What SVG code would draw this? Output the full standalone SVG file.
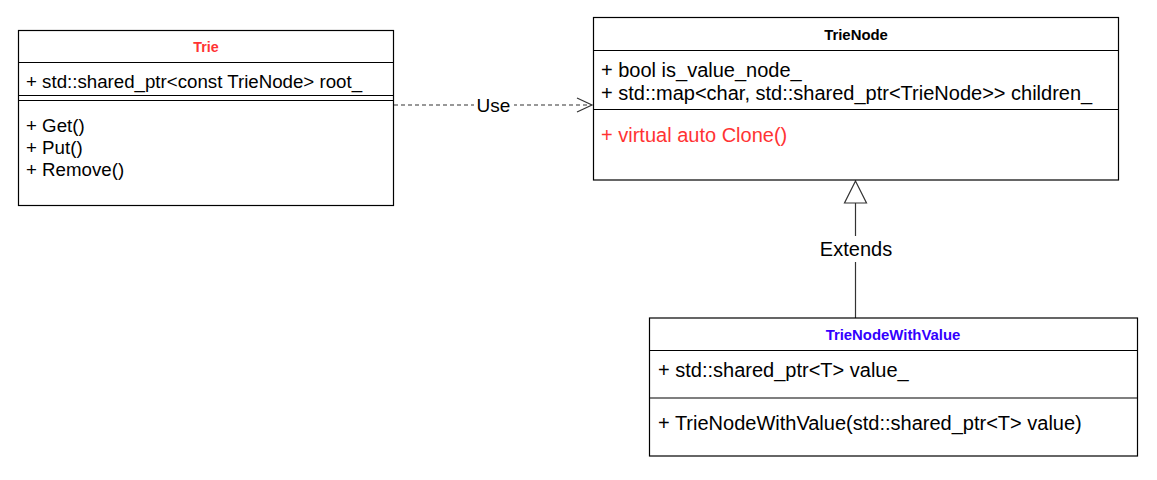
<svg xmlns="http://www.w3.org/2000/svg" width="1157" height="480" viewBox="0 0 1157 480">
<style>
.box{fill:#fff;stroke:#000;stroke-width:1.2}
.ln{stroke:#000;stroke-width:1.2;fill:none}
.t{font-family:"Liberation Sans",Arial,sans-serif;font-size:18.7px;fill:#000}
.t2{font-family:"Liberation Sans",Arial,sans-serif;font-size:20px;fill:#000}
.red{fill:#FF3333}
.h{font-family:"Liberation Sans",Arial,sans-serif;font-size:14.9px;font-weight:bold;text-anchor:middle}
.lbl{font-family:"Liberation Sans",Arial,sans-serif;font-size:20px;fill:#000;text-anchor:middle}
.conn{stroke:#333;stroke-width:1.2;fill:none}
</style>
<rect width="1157" height="480" fill="#fff"/>
<g id="connectors">
<line class="conn" x1="394" y1="105" x2="591" y2="105" stroke-dasharray="4,3"/>
<polyline class="conn" points="577,98 592,105 577,112"/>
<rect x="474" y="92" width="40" height="24" fill="#fff"/>
<text class="lbl" x="493.5" y="112" style="font-size:19px">Use</text>
<line class="conn" x1="855.5" y1="318" x2="855.5" y2="203"/>
<polygon points="855.5,181 844.5,203 866.5,203" fill="#fff" stroke="#333" stroke-width="1.2"/>
<rect x="816" y="236" width="80" height="26" fill="#fff"/>
<text class="lbl" x="856" y="256">Extends</text>
</g>
<g id="trie">
<rect class="box" x="18.5" y="30.5" width="375" height="175"/>
<line class="ln" x1="18.5" y1="62.5" x2="393.5" y2="62.5"/>
<line class="ln" x1="18.5" y1="95.5" x2="393.5" y2="95.5"/>
<line class="ln" x1="18.5" y1="100.5" x2="393.5" y2="100.5"/>
<text class="h red" x="206" y="52" style="font-size:14.3px">Trie</text>
<text class="t" x="26" y="88">+ std::shared_ptr&lt;const TrieNode&gt; root_</text>
<text class="t" x="26" y="132">+ Get()</text>
<text class="t" x="26" y="154">+ Put()</text>
<text class="t" x="26" y="176">+ Remove()</text>
</g>
<g id="trienode">
<rect class="box" x="593.5" y="17.5" width="525" height="162.5"/>
<line class="ln" x1="593.5" y1="50.5" x2="1118.5" y2="50.5"/>
<line class="ln" x1="593.5" y1="109.5" x2="1118.5" y2="109.5"/>
<text class="h" x="856" y="40" fill="#000">TrieNode</text>
<text class="t2" x="601" y="77">+ bool is_value_node_</text>
<text class="t2" x="601" y="100">+ std::map&lt;char, std::shared_ptr&lt;TrieNode&gt;&gt; children_</text>
<text class="t2 red" x="601" y="142">+ virtual auto Clone()</text>
</g>
<g id="trienodewithvalue">
<rect class="box" x="649.5" y="318" width="488" height="138"/>
<line class="ln" x1="649.5" y1="350.5" x2="1137.5" y2="350.5"/>
<line class="ln" x1="649.5" y1="398" x2="1137.5" y2="398"/>
<text class="h" x="893" y="340" style="fill:#3300FF">TrieNodeWithValue</text>
<text class="t2" x="658" y="377">+ std::shared_ptr&lt;T&gt; value_</text>
<text class="t2" x="658" y="430">+ TrieNodeWithValue(std::shared_ptr&lt;T&gt; value)</text>
</g>
</svg>
